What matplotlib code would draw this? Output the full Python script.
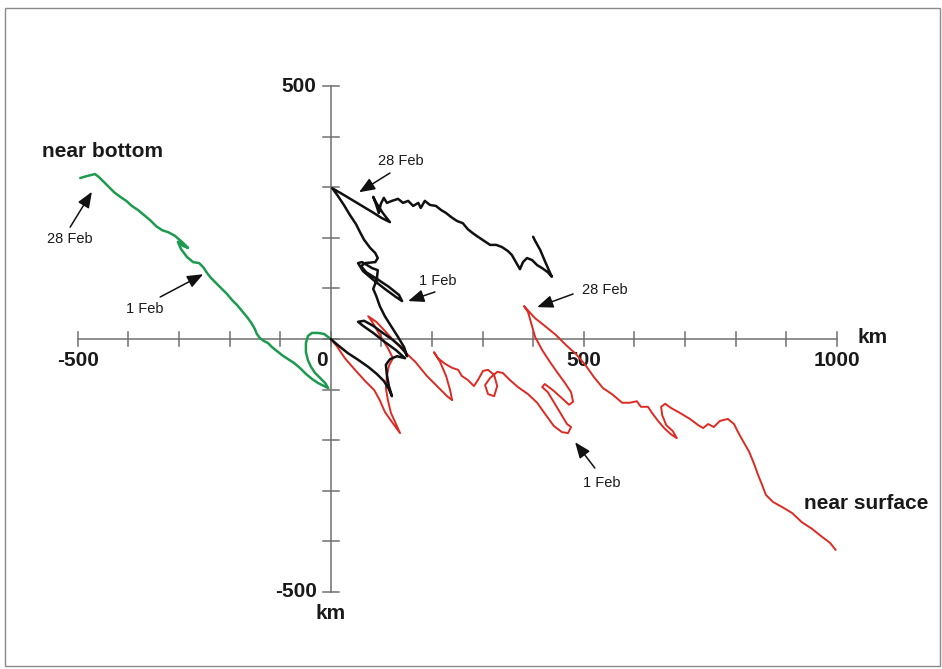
import matplotlib
matplotlib.use("Agg")
import matplotlib.pyplot as plt
from matplotlib.patches import Rectangle

plt.rcParams["font.family"] = ["Liberation Sans", "DejaVu Sans"]

# Progressive vector diagrams (cumulative displacement, km east / km north)
green_x = [0, -13, -25, -37, -45, -49, -49, -45, -39, -31, -21, -11, -5, -13, -25, -37, -49,
           -61, -73, -84, -96, -106, -116, -124, -132, -140, -146, -150, -157, -165, -175,
           -185, -195, -205, -217, -227, -237, -244, -252, -260, -272, -284, -296, -302,
           -292, -282, -294, -308, -321, -333, -345, -357, -369, -381, -393, -404, -416,
           -428, -440, -450, -458, -466, -474, -482, -489, -495]
green_y = [0, 10, 12, 12, 6, -8, -26, -42, -55, -67, -77, -87, -97, -93, -87, -79, -69,
           -57, -47, -40, -32, -24, -16, -8, -4, 2, 10, 20, 32, 43, 55,
           67, 77, 89, 101, 111, 121, 130, 142, 150, 152, 162, 178, 192,
           184, 180, 192, 204, 211, 215, 223, 235, 245, 255, 263, 273, 281,
           290, 302, 312, 320, 326, 324, 322, 320, 318]

black_x = [0, 14, 34, 54, 74, 91, 105, 115, 121, 115, 111, 109, 117, 131, 147, 129, 107,
           84, 64, 54, 66, 84, 103, 123, 137, 147, 151, 145, 133, 119, 107, 97, 90, 84,
           91, 93, 82, 62, 54, 64, 84, 107, 129, 141, 135, 115, 91, 70, 60, 68, 88, 93,
           88, 78, 66, 58, 50, 38, 26, 14, 3, 22, 42, 62, 82, 101, 117, 103, 90, 84, 90,
           95, 99, 105, 111, 121, 133, 143, 153, 163, 173, 178, 186, 196, 208, 218, 228,
           238, 250, 261, 271, 281, 291, 303, 315, 327, 338, 350, 358, 366, 374, 380,
           388, 398, 408, 418, 429, 437, 425, 414, 404, 400]
black_y = [0, -12, -28, -41, -55, -69, -83, -99, -113, -93, -71, -51, -40, -34, -38, -22, -6,
           12, 26, 34, 36, 26, 12, -2, -14, -26, -34, -16, 4, 26, 45, 65, 85, 99,
           117, 136, 140, 152, 150, 134, 117, 99, 83, 75, 87, 103, 119, 132, 144, 150, 152, 160,
           170, 180, 196, 211, 227, 245, 265, 283, 298, 287, 275, 263, 251, 239, 231, 249, 269, 281, 265,
           249, 267, 279, 269, 273, 277, 269, 273, 263, 269, 259, 273, 265, 263, 255, 249,
           241, 233, 229, 217, 209, 202, 194, 186, 186, 182, 174, 166, 152, 138, 152,
           160, 156, 146, 140, 132, 123, 150, 176, 194, 202]

red_x = [0, 12, 28, 48, 68, 86, 97, 107, 121, 137, 129, 119, 113, 109, 111, 115, 123, 113,
         97, 82, 74, 90, 109, 127, 147, 167, 190, 212, 230, 240, 236, 228, 216, 204, 212,
         226, 240, 252, 259, 271, 283, 291, 301, 311, 323, 329, 323, 311, 305, 315, 329,
         340, 354, 370, 390, 408, 425, 441, 457, 469, 475, 467, 429, 418, 423, 439, 457,
         471, 479, 475, 463, 447, 433, 418, 404, 396, 390, 382, 404, 423, 445, 465, 485,
         503, 520, 538, 556, 576, 591, 605, 613, 627, 635, 647, 659, 672, 684, 676, 663,
         655, 653, 661, 672, 690, 710, 726, 736, 746, 757, 769, 785, 797, 805, 815, 827,
         836, 844, 852, 860, 874, 892, 912, 931, 951, 971, 987, 998]
red_y = [0, -14, -38, -61, -83, -101, -121, -144, -164, -186, -168, -146, -121, -97, -73, -53, -38, -18,
         8, 34, 45, 34, 14, -6, -26, -45, -73, -95, -113, -121, -101, -73, -45, -26, -38,
         -49, -57, -61, -73, -81, -93, -81, -63, -61, -71, -93, -113, -109, -91, -77, -65,
         -67, -81, -95, -109, -126, -150, -172, -184, -186, -174, -168, -105, -95, -89, -101, -117,
         -130, -124, -105, -87, -65, -45, -22, 4, 32, 53, 65, 41, 26, 8, -12, -30,
         -51, -75, -97, -109, -126, -126, -123, -134, -134, -146, -162, -176, -188, -196, -182, -170,
         -150, -134, -128, -136, -146, -158, -170, -176, -168, -174, -162, -158, -168, -184, -202, -223,
         -245, -267, -287, -308, -322, -332, -344, -362, -375, -391, -403, -417]

x_ticks = list(range(-500, 1001, 100))
y_ticks = list(range(-500, 501, 100))
x_tick_labels = {-500: "-500", 0: "0", 500: "500", 1000: "1000"}
y_tick_labels = {500: "500", -500: "-500"}

# Date markers: (label, arrow tip, arrow tail, text position) in km
date_marks = [
    ("28 Feb", (-472, 291), (-515, 221), (-515, 198)),
    ("1 Feb", (-252, 128), (-337, 83), (-367, 60)),
    ("28 Feb", (56, 290), (117, 328), (138, 351)),
    ("1 Feb", (153, 75), (206, 93), (211, 115)),
    ("28 Feb", (408, 63), (479, 89), (542, 97)),
    ("1 Feb", (483, -204), (522, -255), (536, -285)),
]

fig = plt.figure(figsize=(9.42, 6.69), dpi=100)
ax = fig.add_axes([0, 0, 1, 1])
ax.set_xlim(-653.6, 1208.1)
ax.set_ylim(-652.2, 670)
ax.axis("off")

# outer frame
fig.patches.append(Rectangle((5 / 942, 3 / 669), 935 / 942, 658 / 669,
                             transform=fig.transFigure, fill=False,
                             edgecolor="#8a8a8a", lw=1.0))

axis_color = "#707070"
ax.plot([-500, 1000], [0, 0], color=axis_color, lw=1.1, zorder=1)
ax.plot([0, 0], [-500, 500], color=axis_color, lw=1.1, zorder=1)
for t in x_ticks:
    ax.plot([t, t], [-14, 14], color=axis_color, lw=1.1, zorder=1)
for t in y_ticks:
    ax.plot([-16, 16], [t, t], color=axis_color, lw=1.1, zorder=1)

bold = dict(fontsize=15, fontweight="bold", color="#1a1a1a")
for t, s in x_tick_labels.items():
    if t == 0:
        ax.text(-17, -42, s, ha="center", va="center", **bold)
    else:
        ax.text(t, -42, s, ha="center", va="center", **bold)
ax.text(1070, 2, "km", ha="center", va="center", **bold)
for t, s in y_tick_labels.items():
    ax.text(-28, t, s, ha="right", va="center", **bold)
ax.text(0, -543, "km", ha="center", va="center", **bold)

ax.plot(green_x, green_y, color="#1e9a50", lw=1.8, zorder=3,
        solid_joinstyle="round", solid_capstyle="round")
ax.plot(red_x, red_y, color="#dc2b22", lw=1.4, zorder=3,
        solid_joinstyle="round", solid_capstyle="round")
ax.plot(black_x, black_y, color="#111111", lw=1.8, zorder=4,
        solid_joinstyle="round", solid_capstyle="round")

ax.text(-452, 370, "near bottom", ha="center", va="center", **bold)
ax.text(1058, -326, "near surface", ha="center", va="center", **bold)

for label, tip, tail, pos in date_marks:
    ax.annotate("", xy=tip, xytext=tail,
                arrowprops=dict(arrowstyle="-|>,head_length=0.8,head_width=0.32",
                                mutation_scale=12, lw=1.1, color="#111111",
                                shrinkA=0, shrinkB=0), zorder=5)
    ax.text(pos[0], pos[1], label, ha="center", va="center", fontsize=10.5,
            color="#1a1a1a", zorder=5)

fig.savefig("out.png", dpi=100, facecolor="white")
